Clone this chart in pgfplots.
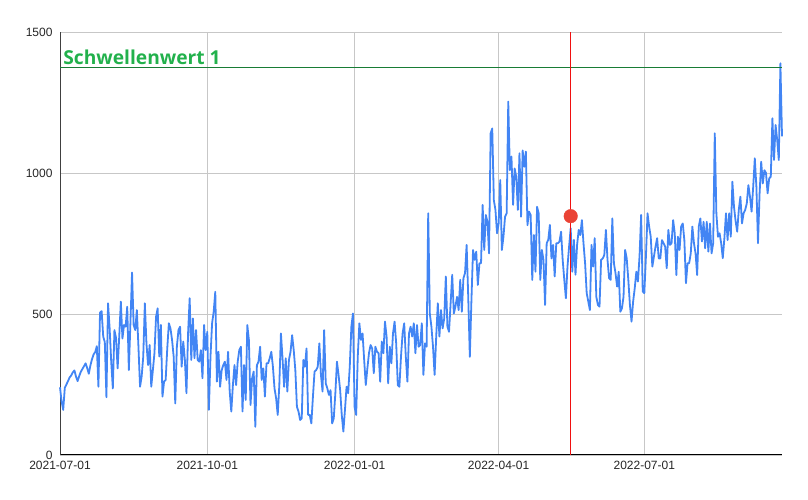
\documentclass[border=0pt]{standalone}
\usepackage{pgfplots}
\usepackage{pgfplotstable}
\pgfplotsset{compat=1.18}
\usepackage{fontspec}
\setmainfont{Liberation Sans}
\newfontfamily\labfont{Open Sans}
\definecolor{lineblue}{HTML}{4285F4}
\definecolor{dotred}{HTML}{EA4335}
\definecolor{vred}{HTML}{F01010}
\definecolor{thgreen}{HTML}{22B14C}
\pgfplotstableread[row sep=\\]{
y\\
240\\190\\160\\238\\250\\262\\275\\282\\293\\300\\278\\262\\280\\295\\305\\315\\325\\308\\288\\318\\340\\357\\365\\386\\242\\505\\510\\420\\400\\205\\538\\450\\330\\236\\443\\415\\
307\\420\\544\\413\\461\\455\\526\\301\\470\\647\\461\\443\\514\\384\\242\\278\\349\\538\\396\\319\\390\\242\\300\\361\\490\\520\\349\\461\\207\\260\\266\\378\\467\\449\\408\\349\\183\\384\\443\\
455\\313\\402\\337\\219\\431\\556\\337\\484\\343\\443\\337\\331\\372\\272\\461\\372\\437\\160\\349\\467\\508\\579\\260\\366\\242\\301\\319\\331\\266\\366\\225\\154\\248\\319\\248\\331\\372\\
384\\154\\319\\195\\461\\408\\177\\272\\296\\100\\319\\331\\384\\266\\307\\207\\325\\325\\343\\366\\313\\236\\201\\142\\248\\431\\343\\242\\343\\225\\337\\366\\425\\372\\301\\171\\154\\124\\
130\\337\\313\\378\\142\\142\\112\\207\\296\\301\\313\\396\\284\\225\\443\\254\\236\\213\\230\\112\\130\\219\\331\\284\\230\\142\\83\\160\\242\\219\\313\\455\\502\\171\\142\\349\\467\\408\\
431\\337\\248\\307\\361\\390\\378\\290\\384\\366\\361\\260\\402\\361\\473\\420\\254\\384\\325\\431\\473\\396\\248\\242\\349\\431\\467\\349\\260\\431\\455\\420\\467\\361\\461\\384\\
390\\467\\284\\396\\384\\857\\502\\455\\384\\284\\420\\538\\420\\514\\449\\484\\633\\455\\437\\538\\639\\502\\526\\561\\514\\621\\508\\627\\645\\745\\561\\348\\549\\727\\692\\721\\603\\680\\
680\\887\\727\\851\\827\\715\\1141\\1158\\904\\869\\786\\821\\975\\727\\774\\845\\857\\1253\\1010\\1058\\887\\1016\\986\\869\\1070\\845\\1080\\1022\\1076\\815\\863\\851\\621\\780\\650\\880\\857\\
621\\727\\692\\532\\751\\763\\816\\697\\745\\633\\751\\751\\757\\792\\692\\621\\556\\668\\739\\804\\650\\763\\639\\745\\798\\780\\833\\751\\680\\574\\544\\514\\745\\668\\769\\561\\532\\
526\\692\\697\\709\\798\\692\\627\\621\\839\\680\\645\\597\\650\\508\\520\\561\\727\\697\\621\\532\\473\\544\\591\\650\\615\\704\\851\\580\\574\\704\\857\\810\\774\\668\\704\\739\\769\\697\\
697\\762\\751\\739\\662\\798\\745\\751\\833\\786\\638\\774\\727\\810\\821\\762\\609\\680\\680\\715\\810\\751\\715\\638\\810\\839\\757\\827\\733\\827\\721\\821\\715\\751\\1141\\857\\774\\
786\\751\\698\\768\\857\\762\\857\\774\\969\\881\\830\\792\\869\\916\\821\\857\\869\\892\\957\\916\\863\\951\\1052\\951\\751\\928\\1040\\963\\1010\\1000\\928\\981\\987\\1194\\1046\\1170\\1117\\1046\\1389\\1130\\
}\datatable
\begin{document}
\begin{tikzpicture}
\begin{axis}[
  scale only axis, width=722pt, height=423pt,
  xmin=0, xmax=451, ymin=0, ymax=1500,
  axis x line*=bottom, axis y line*=left,
  x axis line style={black, line width=1pt},
  y axis line style={black!75, line width=0.8pt},
  xtick={0,92,184,274,365},
  xticklabels={2021-07-01,2021-10-01,2022-01-01,2022-04-01,2022-07-01},
  ytick={0,500,1000,1500},
  yticklabels={0,500,1000,1500},
  grid=major, major grid style={black!22, line width=0.7pt},
  major tick length=0pt,
  tick label style={font=\fontsize{12}{14}\selectfont, text=black!85},
  xticklabel style={yshift=-3pt},
  yticklabel style={xshift=-4pt},
  /pgf/number format/assume math mode=true,
  clip=false,
]
\addplot[lineblue, line width=1.8pt, line join=round] table[x expr=\coordindex, y=y] {\datatable};
\addplot[thgreen!70!black, line width=0.7pt] coordinates {(0,1376) (451,1376)};
\addplot[vred, line width=0.9pt] coordinates {(319,0) (319,1500)};
\addplot[only marks, mark=*, mark size=6.8pt, color=dotred, mark options={draw=dotred, fill=dotred}] coordinates {(319,847)};
\node[anchor=south west, inner sep=0pt, text=thgreen, font=\labfont\fontsize{19.2}{22}\selectfont\bfseries] at (axis cs:2,1382) {Schwellenwert 1};
\end{axis}
\pgfresetboundingbox
\path[use as bounding box] (-60pt,-45pt) rectangle (748pt,455pt);
\end{tikzpicture}
\end{document}
